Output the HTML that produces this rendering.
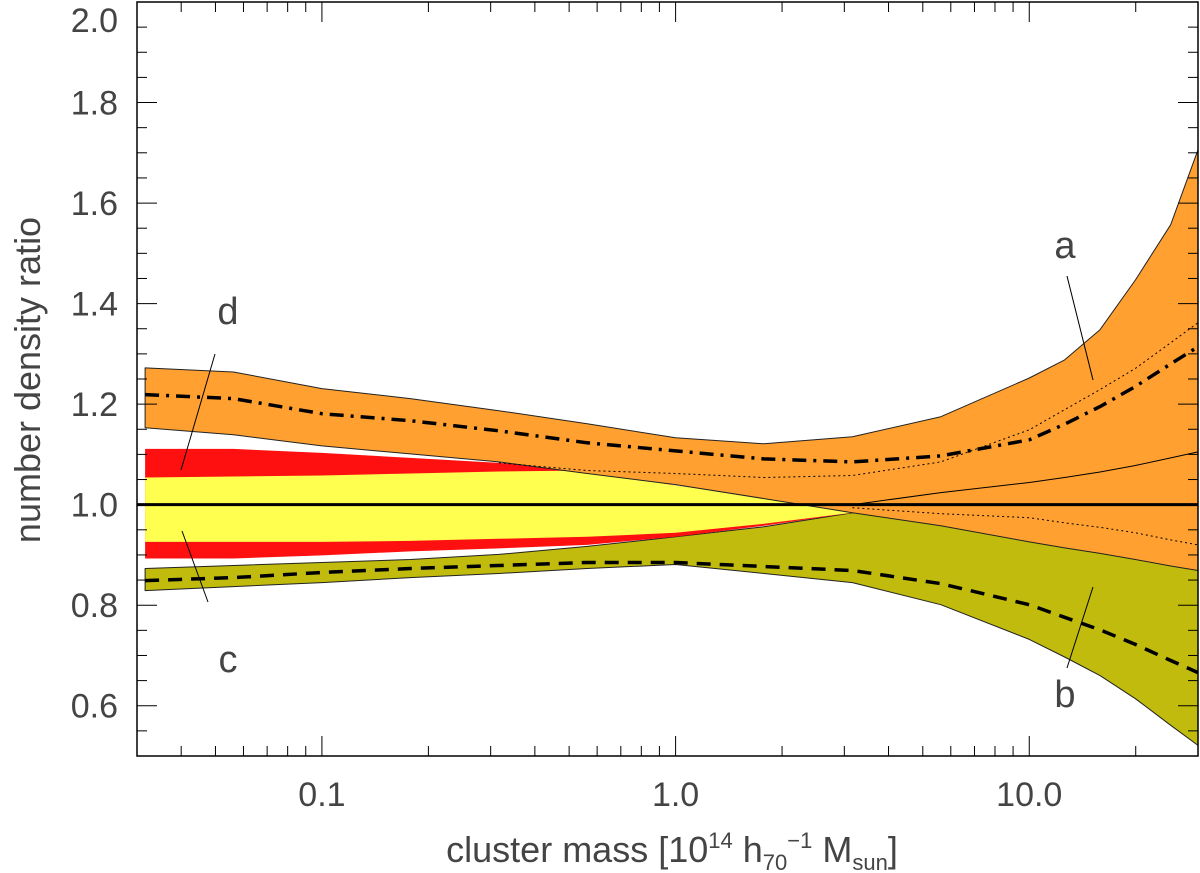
<!DOCTYPE html>
<html><head><meta charset="utf-8"><style>
html,body{margin:0;padding:0;background:#fff;}
svg{display:block;}
text{font-family:"Liberation Sans",sans-serif;fill:#444;}
</style></head><body>
<svg id="chart" width="1200" height="873" viewBox="0 0 1200 873" xmlns="http://www.w3.org/2000/svg">
<g id="bands"></g>
<g id="lines"></g>
<g id="axes"></g>
</svg>
<script>
// data: log10(cluster mass) grid
const lgMass = [-1.5,-1.25,-1.0,-0.75,-0.5,-0.25,0,0.25,0.5,0.75,1.0,1.1,1.2,1.3,1.4,1.477];
const orangeTop = [1.272,1.264,1.231,1.211,1.187,1.161,1.133,1.121,1.135,1.175,1.252,1.288,1.348,1.447,1.557,1.706];
const orangeBottom = [1.153,1.139,1.117,1.101,1.085,1.062,1.040,1.012,0.984,0.958,0.926,0.914,0.903,0.891,0.878,0.869];
const dashDot = [1.219,1.211,1.181,1.167,1.147,1.123,1.107,1.091,1.085,1.097,1.129,1.160,1.195,1.235,1.280,1.314];
const redTop = [1.111,1.111,1.103,1.093,1.083,1.072,1.038,1.016,0.984,0.984,0.984,0.984,0.984,0.984,0.984,0.984];
const yellowTop = [1.054,1.056,1.058,1.062,1.066,1.068,1.038,1.016,0.984,0.984,0.984,0.984,0.984,0.984,0.984,0.984];
const yellowBottom = [0.926,0.926,0.926,0.928,0.932,0.936,0.944,0.962,0.984,0.984,0.984,0.984,0.984,0.984,0.984,0.984];
const redBottom = [0.893,0.893,0.899,0.907,0.913,0.920,0.936,0.958,0.984,0.984,0.984,0.984,0.984,0.984,0.984,0.984];
const oliveTop = [0.873,0.879,0.885,0.891,0.901,0.917,0.936,0.956,0.984,1.010,1.030,1.038,1.046,1.054,1.062,1.070];
const oliveBottom = [0.829,0.837,0.845,0.855,0.863,0.873,0.881,0.863,0.845,0.801,0.732,0.697,0.660,0.614,0.561,0.521];
const dashed = [0.849,0.855,0.865,0.873,0.879,0.885,0.885,0.877,0.869,0.843,0.801,0.776,0.751,0.722,0.690,0.666];
const dottedUpper = [null,null,null,null,1.083,1.068,1.062,1.054,1.058,1.085,1.149,1.189,1.229,1.271,1.322,1.362];
const dottedLower = [null,null,null,null,null,null,null,null,0.994,0.982,0.974,0.964,0.955,0.944,0.930,0.920];
const thinSolid = [null,null,null,null,null,null,null,null,1.0,1.024,1.044,1.054,1.065,1.078,1.093,1.105];
const yTickLabels = ["0.6","0.8","1.0","1.2","1.4","1.6","1.8","2.0"];
const xTickLabels = ["0.1","1.0","10.0"];

const X0=137,X1=1198,Y0=2,Y1=756;
const LMIN=Math.log10(0.03),LMAX=Math.log10(30),VMIN=0.5,VMAX=2.0;
const xs=l=>X0+(l-LMIN)/(LMAX-LMIN)*(X1-X0);
const ys=v=>Y1-(v-VMIN)/(VMAX-VMIN)*(Y1-Y0);
const NS="http://www.w3.org/2000/svg";
function mk(tag,attrs,parent){const e=document.createElementNS(NS,tag);for(const k in attrs)e.setAttribute(k,attrs[k]);parent.appendChild(e);return e;}
const bands=document.getElementById('bands'),lines=document.getElementById('lines'),axes=document.getElementById('axes');
function bandPath(top,bot){let d='';for(let i=0;i<lgMass.length;i++)d+=(i?'L':'M')+xs(lgMass[i]).toFixed(1)+','+ys(top[i]).toFixed(1);for(let i=lgMass.length-1;i>=0;i--)d+='L'+xs(lgMass[i]).toFixed(1)+','+ys(bot[i]).toFixed(1);return d+'Z';}
function linePath(arr){let d='',s=false;for(let i=0;i<lgMass.length;i++){if(arr[i]==null)continue;d+=(s?'L':'M')+xs(lgMass[i]).toFixed(1)+','+ys(arr[i]).toFixed(1);s=true;}return d;}
function band(top,bot,fill,name,stroke){const p=mk('path',{d:bandPath(top,bot),fill:fill,stroke:stroke||'none','stroke-width':1,'stroke-linejoin':'round'},bands);

}
band(oliveTop,oliveBottom,'#c0bb0c','band-b-olive','#222');
band(redTop,redBottom,'#ff1010','band-red');
band(yellowTop,yellowBottom,'#ffff50','band-c-yellow');
band(orangeTop,orangeBottom,'#ffa030','band-a-orange','#222');
function line(arr,w,dash,name){const p=mk('path',{d:linePath(arr),fill:'none',stroke:'#000','stroke-width':w,'stroke-dasharray':dash||'none','stroke-linejoin':'round'},lines);

}
line(dottedUpper,1,'2,3','dotted-upper-line');
line(dottedLower,1,'2,3','dotted-lower-line');
line(thinSolid,1,null,'thin-solid-line');
line(dashDot,3.5,'14,7,3,7','dash-dot-line');
line(dashed,3.5,'14,9','dashed-line');
const ref=mk('line',{x1:X0,x2:X1,y1:ys(1),y2:ys(1),stroke:'#000','stroke-width':3},lines);


// annotations
const ann=[["a",1065,258,1067,276,1093,380],["b",1065,707,1067,668,1093,587],["c",228,672,182,531,208,602],["d",228,324,215,354,181,470]];
ann.forEach(a=>{const t=mk('text',{x:a[1],y:a[2],'font-size':38,'text-anchor':'middle'},lines);t.textContent=a[0];


const l=mk('line',{x1:a[3],y1:a[4],x2:a[5],y2:a[6],stroke:'#000','stroke-width':1},lines);

});
// frame
const fr=mk('rect',{x:X0,y:Y0,width:X1-X0,height:Y1-Y0,fill:'none',stroke:'#000','stroke-width':1.5},axes);


// y ticks
for(let k=0;k<=30;k++){const v=0.5+k*0.05;const maj=Math.abs((v*10)%2)<0.01||Math.abs((v*10)%2-2)<0.01;const L=maj?20:10;const y=ys(v);
mk('line',{x1:X0,x2:X0+L,y1:y,y2:y,stroke:'#000','stroke-width':1},axes);
mk('line',{x1:X1,x2:X1-L,y1:y,y2:y,stroke:'#000','stroke-width':1},axes);}
yTickLabels.forEach(s=>{const t=mk('text',{x:118,y:Math.max(ys(parseFloat(s))+12,32),'font-size':34,'text-anchor':'end'},axes);t.textContent=s;

});
// x ticks
for(let d=-2;d<=1;d++)for(let m=1;m<=9;m++){const l=d+Math.log10(m);if(l<LMIN-1e-6||l>LMAX+1e-6)continue;const L=m==1?20:10;const x=xs(l);
mk('line',{x1:x,x2:x,y1:Y1,y2:Y1-L,stroke:'#000','stroke-width':1},axes);
mk('line',{x1:x,x2:x,y1:Y0,y2:Y0+L,stroke:'#000','stroke-width':1},axes);}
xTickLabels.forEach(s=>{const t=mk('text',{x:xs(Math.log10(parseFloat(s))),y:806,'font-size':34,'text-anchor':'middle'},axes);t.textContent=s;

});
</script>
<svg style="position:absolute;left:0;top:0" width="1200" height="873">
<text x="40" y="380" font-size="36" text-anchor="middle" transform="rotate(-90 40 380)" style="font-family:'Liberation Sans',sans-serif;fill:#444">number density ratio</text>
<text x="672" y="862" font-size="36" text-anchor="middle" style="font-family:'Liberation Sans',sans-serif;fill:#444">cluster mass [10<tspan font-size="22" dy="-14">14</tspan><tspan dy="14"> h</tspan><tspan font-size="22" dy="8">70</tspan><tspan font-size="22" dy="-22">−1</tspan><tspan dy="14"> M</tspan><tspan font-size="22" dy="8">sun</tspan><tspan dy="-8">]</tspan></text>
</svg>
</body></html>
